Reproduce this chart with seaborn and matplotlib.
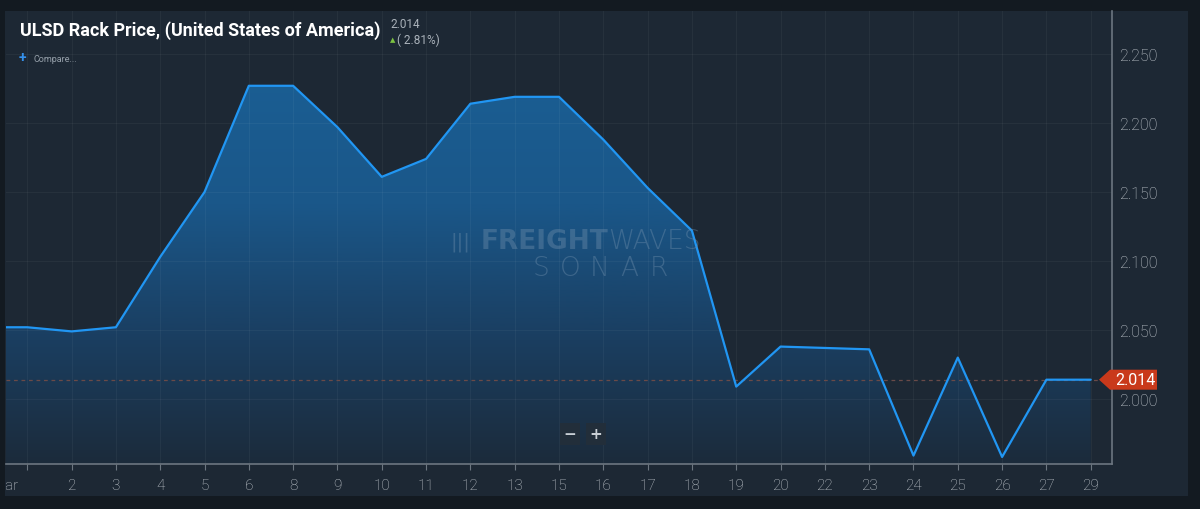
import numpy as np
import pandas as pd
import matplotlib
matplotlib.use("Agg")
import matplotlib.pyplot as plt
import seaborn as sns
from matplotlib import font_manager
from matplotlib.colors import LinearSegmentedColormap
from matplotlib.patches import Polygon, Rectangle
from matplotlib.transforms import blended_transform_factory, ScaledTranslation, Bbox

# data
day_labels = ['Mar', '2', '3', '4', '5', '6', '8', '9', '10', '11', '12', '13', '15',
              '16', '17', '18', '19', '20', '22', '23', '24', '25', '26', '27', '29']
prices = [2.052, 2.049, 2.052, 2.103, 2.150, 2.227, 2.227, 2.197, 2.161, 2.174, 2.214,
          2.219, 2.219, 2.188, 2.153, 2.122, 2.009, 2.038, 2.037, 2.036, 1.959, 2.030,
          1.958, 2.014, 2.014]
prior_price = 2.052          # day before 'Mar', cut off at the left edge
last_price = 2.014
change_pct = 2.81
y_ticks = [2.000, 2.050, 2.100, 2.150, 2.200, 2.250]

sns.set_theme(style="dark")
installed = {f.name for f in font_manager.fontManager.ttflist}
narrow = 'Liberation Sans Narrow' if 'Liberation Sans Narrow' in installed else 'Roboto'
plt.rcParams['font.family'] = ['Roboto', 'DejaVu Sans']

W, H = 1200, 510
fig = plt.figure(figsize=(W / 100, H / 100), dpi=100, facecolor='#131a21')

def fx(px):
    return px / W

def fy(py):
    return 1 - py / H

# panel behind the axes
fig.patches.append(Rectangle((fx(5), fy(497)), fx(1188 - 5), (497 - 12) / H,
                             transform=fig.transFigure, facecolor='#1d2834',
                             edgecolor='none', zorder=-5))

ax = fig.add_axes([fx(6), fy(465), fx(1112 - 6), (465 - 12) / H])
ax.set_facecolor('#1d2834')
ax.set_zorder(1)

pos = np.arange(-1, len(prices))
df = pd.DataFrame({'pos': pos, 'price': [prior_price] + prices})

ymin, ymax = 1.9529, 2.2812
xmin, xmax = -0.48, len(prices) - 1 + 0.48

# gradient area fill
cmap = LinearSegmentedColormap.from_list('fill', ['#1c2b3b', '#1a3f62', '#1a5789', '#1b5e93'])
grad = np.linspace(0, 1, 256).reshape(-1, 1)
im = ax.imshow(grad, extent=[xmin - 1, xmax + 1, ymin, 2.235], origin='lower',
               aspect='auto', cmap=cmap, zorder=1)
area = ax.fill_between(df['pos'], df['price'], ymin, color='none', lw=0)
im.set_clip_path(area.get_paths()[0], transform=ax.transData)

sns.lineplot(data=df, x='pos', y='price', color='#2196f3', lw=1.6, ax=ax, zorder=4)
ax.set_xlim(xmin, xmax)
ax.set_ylim(ymin, ymax)

# grid (faint, lighter than both the background and the fill)
for i in range(len(day_labels)):
    ax.axvline(i, color='white', alpha=0.045, lw=0.9, zorder=2)
for v in y_ticks:
    ax.axhline(v, color='white', alpha=0.045, lw=0.9, zorder=2)

# last-price dashed line
ax.axhline(last_price, color='#6a4a48', lw=0.9, ls=(0, (3, 3)), zorder=3)

# axes styling
for side in ['top', 'left']:
    ax.spines[side].set_visible(False)
for side in ['bottom', 'right']:
    ax.spines[side].set_color('#6c7680')
    ax.spines[side].set_linewidth(1.2)
ax.yaxis.tick_right()
ax.set_yticks(y_ticks)
ax.set_yticklabels([f'{v:.3f}' for v in y_ticks])
ax.set_xticks(range(len(day_labels)))
ax.set_xticklabels(day_labels)
ax.tick_params(axis='x', colors='#6c7680', labelcolor='#c4cad0', length=4, width=0.8,
               direction='out', pad=6, labelsize=11, bottom=True)
ax.tick_params(axis='y', colors='#6c7680', labelcolor='#c4cad0', length=0, pad=5,
               labelsize=11.5)
for lbl in ax.get_xticklabels() + ax.get_yticklabels():
    lbl.set_fontweight('light')
ax.set_xlabel('')
ax.set_ylabel('')

# first label is cut off at the panel edge
first = ax.get_xticklabels()[0]
first.set_transform(first.get_transform() + ScaledTranslation(-22 / 100, 0, fig.dpi_scale_trans))
first.set_clip_on(True)
first.set_clip_box(Bbox.from_extents(6, 0, W, H))

# price tag on the right
tr = blended_transform_factory(fig.transFigure, ax.transData)
h = (ymax - ymin) / 453 * 10
tag = Polygon([(fx(1099), last_price), (fx(1110), last_price + h), (fx(1157), last_price + h),
               (fx(1157), last_price - h), (fx(1110), last_price - h)],
              closed=True, transform=tr, facecolor='#c9391b', edgecolor='none',
              clip_on=False, zorder=6)
fig.patches.append(tag)
fig.text(fx(1135), last_price, f'{last_price:.3f}', transform=tr, color='white', fontsize=11.5,
         ha='center', va='center', zorder=7)

# title block
fig.text(fx(20), fy(31), 'ULSD Rack Price, (United States of America)', family=[narrow, 'DejaVu Sans'],
         fontweight='bold', fontsize=13, color='white', ha='left', va='center')
fig.text(fx(390), fy(24), f'{last_price:.3f}', fontsize=8.5, color='#aab2ba', ha='left', va='center')
fig.text(fx(390), fy(40), '\u25b2', family=['DejaVu Sans'], fontsize=5, color='#7cc242',
         ha='left', va='center')
fig.text(fx(397), fy(40), f'( {change_pct:.2f}%)', fontsize=8.5, color='#aab2ba', ha='left', va='center')
fig.text(fx(19), fy(58), '+', fontsize=10, color='#3590ea', fontweight='bold', ha='left', va='center')
fig.text(fx(33), fy(59), 'Compare...', fontsize=6.5, color='#98a2ac', ha='left', va='center')

# watermark
wm = '#7190ad'
fig.text(fx(608), fy(242), 'FREIGHT', fontsize=19, fontweight='black', color=wm,
         alpha=0.4, ha='right', va='center', family=['DejaVu Sans'], zorder=5)
fig.text(fx(608), fy(242), 'WAVES', fontsize=19, fontweight='light', color=wm,
         alpha=0.4, ha='left', va='center', family=['DejaVu Sans'], zorder=5)
fig.text(fx(470), fy(242), '|||', fontsize=14, color=wm, alpha=0.4, ha='right',
         va='center', family=['DejaVu Sans'], zorder=5)
sonar = 'SONAR'
for k, ch in enumerate(sonar):
    fig.text(fx(541 + k * 29.5), fy(269), ch, fontsize=19, fontweight='light', color=wm,
             alpha=0.4, ha='center', va='center', family=['DejaVu Sans'], zorder=5)

# zoom buttons
for xpx, ch in [(570, '\u2212'), (596, '+')]:
    fig.text(fx(xpx), fy(435), ch, fontsize=11, color='#c8ced4', fontweight='bold',
             ha='center', va='center', family=['DejaVu Sans'], zorder=5,
             bbox=dict(boxstyle='square,pad=0.25', facecolor='#222e3a', edgecolor='none'))

fig.savefig('out.png', dpi=100, facecolor=fig.get_facecolor())
